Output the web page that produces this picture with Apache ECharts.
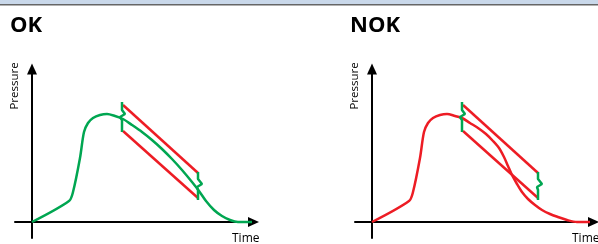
<!DOCTYPE html>
<html>
<head>
<meta charset="utf-8">
<script src="https://cdn.jsdelivr.net/npm/echarts@6/dist/echarts.min.js"></script>
<style>
  html, body { margin: 0; padding: 0; background: #fff; }
  #chart { width: 598px; height: 244px; }
</style>
</head>
<body>
<div id="chart"></div>
<script>
// time / pressure, origin at the axis crossing
var okCurve = [[0,0],[37,21],[41,30],[48,64],[52,90],[56,99],[61,104],[68,107],[75,108],[83,106],[91,103],[100,97],[110,90],[120,82],[130,73],[140,63],[150,52],[160,40],[167,31],[174,21],[182,12],[190,6],[198,2],[206,0],[220,0]];
var nokCurve = [[0,0],[37,21],[41,30],[48,64],[52,90],[56,99],[61,104],[68,107],[75,108],[83,106],[90,104],[98,99],[106,94],[114,88],[121,81],[127,74],[132,65],[136,56],[140,47],[145,38],[150,30],[156,23],[163,17],[170,12],[178,8],[186,5],[195,2],[205,0],[218,0]];
var upperLimit = [[91,117],[166,49]];
var lowerLimit = [[91,91],[166,24]];
var entryMark = [[90,120],[90,112],[93,108],[88,105],[90,102],[90,90]];
var exitMark = [[166,50],[166,43],[170,38],[165,35],[166,32],[166,22]];
var titles = ['OK', 'NOK'];

var GREEN = '#00a651', RED = '#ed1c24';
var chart = echarts.init(document.getElementById('chart'));

function axisPair(i) {
  var line = {
    show: true, onZero: true,
    symbol: ['none', 'triangle'], symbolSize: [10, 11],
    lineStyle: { color: '#000', width: 2 }
  };
  return {
    x: { type: 'value', gridIndex: i, min: -17, max: 221.5, axisLine: line,
         axisTick: { show: false }, axisLabel: { show: false }, splitLine: { show: false } },
    y: { type: 'value', gridIndex: i, min: -16, max: 153, axisLine: line,
         axisTick: { show: false }, axisLabel: { show: false }, splitLine: { show: false } }
  };
}

function ln(i, data, color, smooth) {
  return {
    type: 'line', xAxisIndex: i, yAxisIndex: i, data: data,
    symbol: 'none', smooth: smooth || false,
    lineStyle: { color: color, width: 2.5 }, animation: false, silent: true
  };
}

var a0 = axisPair(0), a1 = axisPair(1);
var series = [];
[[okCurve, GREEN], [nokCurve, RED]].forEach(function (c, i) {
  series.push(ln(i, upperLimit, RED));
  series.push(ln(i, lowerLimit, RED));
  series.push(ln(i, c[0], c[1], 0.3));
  series.push(ln(i, entryMark, GREEN));
  series.push(ln(i, exitMark, GREEN));
});

var graphic = [
  { type: 'rect', left: 0, top: 0, shape: { width: 598, height: 4 }, style: { fill: '#c9d8ea' } },
  { type: 'rect', left: 0, top: 4, shape: { width: 598, height: 1.5 }, style: { fill: '#666' } }
];
[0, 340].forEach(function (dx, i) {
  graphic.push({ type: 'text', x: 10 + dx, y: 15,
    style: { text: titles[i], fontFamily: 'Open Sans', fontWeight: 'bold', fontSize: 22, fill: '#000', textVerticalAlign: 'top' } });
  graphic.push({ type: 'text', x: 15 + dx, y: 86, rotation: Math.PI / 2,
    style: { text: 'Pressure', fontFamily: 'Open Sans', fontSize: 11.5, fill: '#000', textAlign: 'center', textVerticalAlign: 'middle' } });
  graphic.push({ type: 'text', x: 232 + dx, y: 233,
    style: { text: 'Time', fontFamily: 'Open Sans', fontSize: 12, fill: '#000', textAlign: 'left', textVerticalAlign: 'top' } });
});

chart.setOption({
  animation: false,
  grid: [
    { left: 15, top: 69, width: 238.5, height: 169 },
    { left: 355, top: 69, width: 238.5, height: 169 }
  ],
  xAxis: [a0.x, a1.x],
  yAxis: [a0.y, a1.y],
  series: series,
  graphic: graphic
});
</script>
</body>
</html>
